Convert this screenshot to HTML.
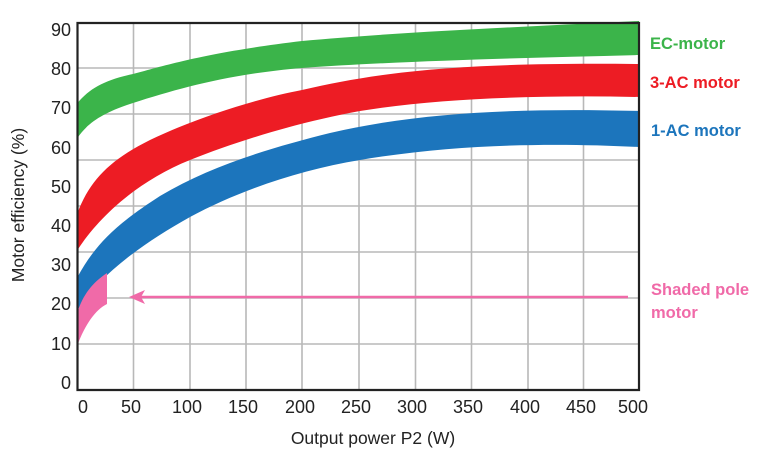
<!DOCTYPE html>
<html><head><meta charset="utf-8"><style>
html,body{margin:0;padding:0;background:#fff;}
svg{display:block;}
text{font-family:"Liberation Sans",sans-serif;}
</style></head><body>
<svg width="770" height="467" viewBox="0 0 770 467" xmlns="http://www.w3.org/2000/svg">
<g stroke="#b8b8b8" stroke-width="1.6">
<line x1="133.5" y1="23" x2="133.5" y2="390"/>
<line x1="190" y1="23" x2="190" y2="390"/>
<line x1="246" y1="23" x2="246" y2="390"/>
<line x1="302" y1="23" x2="302" y2="390"/>
<line x1="359" y1="23" x2="359" y2="390"/>
<line x1="415.5" y1="23" x2="415.5" y2="390"/>
<line x1="471.5" y1="23" x2="471.5" y2="390"/>
<line x1="528" y1="23" x2="528" y2="390"/>
<line x1="583.5" y1="23" x2="583.5" y2="390"/>
<line x1="77" y1="68" x2="639" y2="68"/>
<line x1="77" y1="114" x2="639" y2="114"/>
<line x1="77" y1="160" x2="639" y2="160"/>
<line x1="77" y1="206" x2="639" y2="206"/>
<line x1="77" y1="252" x2="639" y2="252"/>
<line x1="77" y1="298" x2="639" y2="298"/>
<line x1="77" y1="344" x2="639" y2="344"/>
</g>
<!-- green -->
<path fill="#3bb44a" d="M77.5,103 C90,88 105,80 133,74 C170,64 210,52 302,41 C400,32 520,27 639,21 L639,55 C520,58 400,61 302,68 C230,74 180,88 133,103 C105,112 88,122 77.5,138 Z"/>
<!-- red -->
<path fill="#ed1c24" d="M77.5,213 C90,180 110,160 150,140 C200,116 260,98 302,90 C380,72 460,62 639,64 L639,97 C540,95 440,98 360,111 C300,122 240,140 190,160 C140,180 100,215 77.5,250 Z"/>
<!-- blue -->
<path fill="#1c75bc" d="M77.5,277 C95,245 115,225 160,196 C210,166 270,148 330,133 C420,112 520,108 639,111 L639,147 C560,143 460,143 360,160 C300,170 240,190 190,217 C140,245 100,275 77.5,310 Z"/>
<!-- pink -->
<path fill="#f06aa8" d="M77.5,312 C83,295 92,283 107,273 L107,304 C95,310 85,325 77.5,345 Z"/>
<line x1="138" y1="297" x2="628" y2="297" stroke="#f06aa8" stroke-width="2.6"/>
<path fill="#f06aa8" d="M129,297 L145,290 L141,297 L145,304 Z"/>
<!-- axes -->
<path d="M77.5,23 L639,23 L639,390 L77.5,390 Z" fill="none" stroke="#222" stroke-width="2.2"/>
<g font-size="18" fill="#222" text-anchor="end">
<text x="71" y="36">90</text>
<text x="71" y="75">80</text>
<text x="71" y="114">70</text>
<text x="71" y="154">60</text>
<text x="71" y="193">50</text>
<text x="71" y="232">40</text>
<text x="71" y="271">30</text>
<text x="71" y="310">20</text>
<text x="71" y="350">10</text>
<text x="71" y="389">0</text>
</g>
<g font-size="18" fill="#222" text-anchor="middle">
<text x="83" y="413">0</text>
<text x="131" y="413">50</text>
<text x="187" y="413">100</text>
<text x="243" y="413">150</text>
<text x="300" y="413">200</text>
<text x="356" y="413">250</text>
<text x="412" y="413">300</text>
<text x="468" y="413">350</text>
<text x="525" y="413">400</text>
<text x="581" y="413">450</text>
<text x="633" y="413">500</text>
</g>
<text x="373" y="444" font-size="17.5" fill="#222" text-anchor="middle">Output power P2 (W)</text>
<text transform="translate(24,205) rotate(-90)" font-size="17.5" fill="#222" text-anchor="middle">Motor efficiency (%)</text>
<g font-size="16.5" font-weight="bold">
<text x="650" y="49" fill="#3bb44a">EC-motor</text>
<text x="650" y="88" fill="#ed1c24">3-AC motor</text>
<text x="651" y="136" fill="#1c75bc">1-AC motor</text>
<text x="651" y="295" fill="#f06aa8">Shaded pole</text>
<text x="651" y="318" fill="#f06aa8">motor</text>
</g>
</svg>
</body></html>
